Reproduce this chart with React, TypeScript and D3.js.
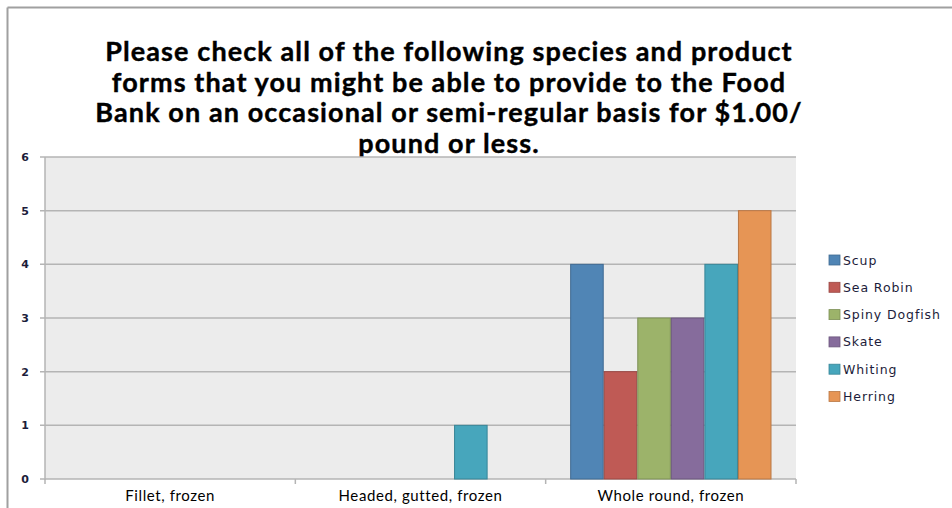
import React from "react";
import * as d3 from "d3";

const categories = ["Fillet, frozen", "Headed, gutted, frozen", "Whole round, frozen"];
const seriesNames = ["Scup", "Sea Robin", "Spiny Dogfish", "Skate", "Whiting", "Herring"];
const scup = [0, 0, 4];
const seaRobin = [0, 0, 2];
const spinyDogfish = [0, 0, 3];
const skate = [0, 0, 3];
const whiting = [0, 1, 4];
const herring = [0, 0, 5];
const yTicks = [0, 1, 2, 3, 4, 5, 6];
const titleLines = [
  "Please check all of the following species and product",
  "forms that you might be able to provide to the Food",
  "Bank on an occasional or semi-regular basis for $1.00/",
  "pound or less.",
];

const seriesValues = [scup, seaRobin, spinyDogfish, skate, whiting, herring];
const fills = ["#5085b5", "#bf5a55", "#9cb36a", "#866c9c", "#47a6bc", "#e69555"];
const strokes = ["#3f6a92", "#9a4844", "#7d9055", "#6b567d", "#388597", "#b97744"];

const W = 952;
const H = 508;
const plot = { left: 45, right: 796, top: 157, bottom: 479 };

export default function App() {
  const x0 = d3
    .scaleBand<string>()
    .domain(categories)
    .range([plot.left, plot.right]);
  const inner = d3
    .scaleBand<string>()
    .domain(seriesNames)
    .range([0, x0.bandwidth()])
    .paddingInner(0)
    .paddingOuter(0.73);
  const y = d3.scaleLinear().domain([0, 6]).range([plot.bottom, plot.top]);

  return (
    <svg
      width={W}
      height={H}
      style={{ position: "absolute", left: 0, top: 0 }}
      fontFamily="'DejaVu Sans', Verdana, sans-serif"
    >
      <rect x={0} y={0} width={W} height={H} fill="#ffffff" />
      {/* chart frame */}
      <line x1={7.5} y1={7.5} x2={W} y2={7.5} stroke="#a0a0a0" strokeWidth={2} />
      <line x1={7.5} y1={7.5} x2={7.5} y2={H} stroke="#a0a0a0" strokeWidth={2} />

      {titleLines.map((t, i) => (
        <text
          key={i}
          x={449}
          y={61 + i * 30.5}
          textAnchor="middle"
          fontSize={27}
          fontWeight="bold"
          letterSpacing={1.1}
          fill="#000"
          stroke="#000"
          strokeWidth={0.4}
          fontFamily="Lato, 'Open Sans', sans-serif"
        >
          {t}
        </text>
      ))}

      {/* plot area */}
      <rect
        x={plot.left}
        y={plot.top}
        width={plot.right - plot.left}
        height={plot.bottom - plot.top}
        fill="#ececec"
      />
      {yTicks.map((v) => (
        <g key={v}>
          <line
            x1={plot.left - 5}
            x2={plot.right}
            y1={y(v)}
            y2={y(v)}
            stroke="#b4b4b4"
            strokeWidth={1.5}
          />
          <text
            x={29}
            y={y(v) + 4}
            textAnchor="end"
            fontSize={11}
            fontWeight="bold"
            fill="#1c1c3a"
          >
            {v}
          </text>
        </g>
      ))}
      <line
        x1={plot.left}
        x2={plot.left}
        y1={plot.top}
        y2={plot.bottom + 1}
        stroke="#b4b4b4"
        strokeWidth={1.5}
      />
      {/* category ticks */}
      {categories.map((c) => (
        <line
          key={c}
          x1={x0(c)!}
          x2={x0(c)!}
          y1={plot.bottom}
          y2={plot.bottom + 5}
          stroke="#b4b4b4"
          strokeWidth={1.5}
        />
      ))}
      <line
        x1={plot.right}
        x2={plot.right}
        y1={plot.bottom}
        y2={plot.bottom + 5}
        stroke="#b4b4b4"
        strokeWidth={1.5}
      />

      {/* bars */}
      {categories.map((c, ci) => (
        <g key={c} transform={`translate(${x0(c)},0)`}>
          {seriesNames.map((s, si) => {
            const v = seriesValues[si][ci];
            if (!v) return null;
            return (
              <rect
                key={s}
                x={inner(s)! + 0.5}
                y={y(v)}
                width={inner.bandwidth() - 1}
                height={y(0) - y(v)}
                fill={fills[si]}
                stroke={strokes[si]}
                strokeWidth={1}
              />
            );
          })}
        </g>
      ))}

      {/* category labels */}
      {categories.map((c) => (
        <text
          key={c}
          x={x0(c)! + x0.bandwidth() / 2}
          y={501}
          textAnchor="middle"
          fontSize={15}
          letterSpacing={0.6}
          fill="#000"
          fontFamily="Lato, 'Open Sans', sans-serif"
        >
          {c}
        </text>
      ))}

      {/* legend */}
      {seriesNames.map((s, i) => {
        const cy = 260 + i * 27.3;
        return (
          <g key={s}>
            <rect
              x={829}
              y={cy - 5}
              width={11}
              height={10}
              fill={fills[i]}
              stroke={strokes[i]}
              strokeWidth={0.8}
            />
            <text
              x={843}
              y={cy + 4.5}
              fontSize={12.5}
              letterSpacing={0.9}
              fill="#1c1c3a"
            >
              {s}
            </text>
          </g>
        );
      })}
    </svg>
  );
}
